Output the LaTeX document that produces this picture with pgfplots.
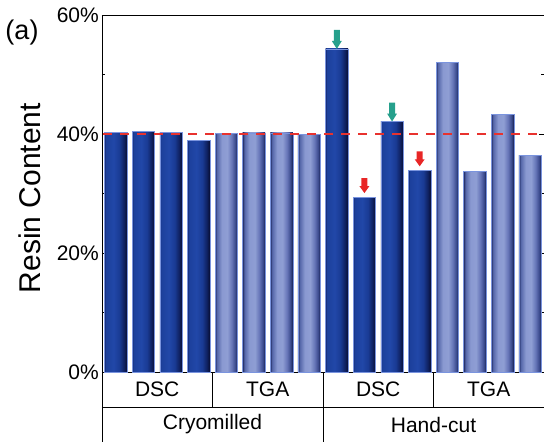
\documentclass[border=0pt]{standalone}
\usepackage{pgfplots}
\pgfplotsset{compat=1.18}
\usepackage{fontspec}
\setmainfont{Liberation Sans}

\definecolor{barEdge}{HTML}{7A94DE}
\definecolor{refRed}{HTML}{E8322E}
\definecolor{arrTeal}{HTML}{26A08C}
\definecolor{arrRed}{HTML}{E82626}

% horizontal gradients for the two bar families (bar spans 25bp..75bp)
\pgfdeclarehorizontalshading{darkbar}{100bp}{%
  rgb(0bp)=(0.08,0.16,0.44); rgb(25bp)=(0.08,0.16,0.44);
  rgb(28bp)=(0.11,0.25,0.61); rgb(45bp)=(0.13,0.28,0.66);
  rgb(58bp)=(0.10,0.23,0.58); rgb(68bp)=(0.06,0.13,0.38);
  rgb(75bp)=(0.03,0.05,0.19); rgb(100bp)=(0.03,0.05,0.19)}
\pgfdeclarehorizontalshading{litebar}{100bp}{%
  rgb(0bp)=(0.12,0.16,0.38); rgb(25bp)=(0.12,0.16,0.38);
  rgb(29bp)=(0.33,0.40,0.66); rgb(40bp)=(0.54,0.60,0.82);
  rgb(52bp)=(0.56,0.62,0.83); rgb(62bp)=(0.40,0.46,0.72);
  rgb(70bp)=(0.23,0.29,0.55); rgb(75bp)=(0.08,0.12,0.31); rgb(100bp)=(0.08,0.12,0.31)}

\pgfplotsset{
  dscbar/.style={ybar, bar width=22.5pt, bar shift=0pt, shade, shading=darkbar, draw=barEdge, line width=0.6pt},
  tgabar/.style={ybar, bar width=22.5pt, bar shift=0pt, shade, shading=litebar, draw=barEdge, line width=0.6pt},
}

% resin content (%) of the hand-cut DSC samples, reused for the markers
\def\hA{54.3}
\def\hB{29.4}
\def\hC{42.1}
\def\hD{33.9}

\begin{document}
\begin{tikzpicture}
\path[use as bounding box] (-102pt,-70pt) rectangle (442pt,372pt);
\begin{axis}[
  at={(0,0)}, anchor=south west,
  scale only axis, width=442pt, height=357pt,
  xmin=-0.5, xmax=15.5, ymin=0, ymax=60,
  xtick=\empty,
  ytick={0,20,40,60},
  yticklabels={0\%,20\%,40\%,60\%},
  minor ytick={10,30,50},
  ytick pos=both, yticklabel pos=left,
  tick align=inside,
  major tick length=5pt, minor tick length=3pt,
  every tick/.style={black, line width=0.8pt},
  axis line style={black, line width=0.9pt},
  yticklabel style={font=\fontsize{21}{25}\selectfont, inner sep=0pt, xshift=-3pt},
  clip=false,
]
% Cryomilled, DSC
\addplot[dscbar] coordinates {(0,40.3)};
\addplot[dscbar] coordinates {(1,40.5)};
\addplot[dscbar] coordinates {(2,40.3)};
\addplot[dscbar] coordinates {(3,38.9)};
% Cryomilled, TGA
\addplot[tgabar] coordinates {(4,40.05)};
\addplot[tgabar] coordinates {(5,40.2)};
\addplot[tgabar] coordinates {(6,40.2)};
\addplot[tgabar] coordinates {(7,40.0)};
% Hand-cut, DSC
\addplot[dscbar] coordinates {(8,\hA)};
\addplot[dscbar] coordinates {(9,\hB)};
\addplot[dscbar] coordinates {(10,\hC)};
\addplot[dscbar] coordinates {(11,\hD)};
% Hand-cut, TGA
\addplot[tgabar] coordinates {(12,52.0)};
\addplot[tgabar] coordinates {(13,33.7)};
\addplot[tgabar] coordinates {(14,43.3)};
\addplot[tgabar] coordinates {(15,36.4)};

\addplot[sharp plot, refRed, line width=1.6pt, dash pattern=on 9pt off 8pt]
  coordinates {(-0.45,40) (15.25,40)};

% down arrows above the hand-cut DSC bars
\fill[arrTeal] (axis cs:8,\hA) -- ([xshift=-5pt,yshift=8pt]axis cs:8,\hA) -- ([xshift=-3pt,yshift=8pt]axis cs:8,\hA)
  -- ([xshift=-3pt,yshift=19pt]axis cs:8,\hA) -- ([xshift=3pt,yshift=19pt]axis cs:8,\hA)
  -- ([xshift=3pt,yshift=8pt]axis cs:8,\hA) -- ([xshift=5pt,yshift=8pt]axis cs:8,\hA) -- cycle;
\fill[arrTeal] (axis cs:10,\hC) -- ([xshift=-5pt,yshift=8pt]axis cs:10,\hC) -- ([xshift=-3pt,yshift=8pt]axis cs:10,\hC)
  -- ([xshift=-3pt,yshift=19pt]axis cs:10,\hC) -- ([xshift=3pt,yshift=19pt]axis cs:10,\hC)
  -- ([xshift=3pt,yshift=8pt]axis cs:10,\hC) -- ([xshift=5pt,yshift=8pt]axis cs:10,\hC) -- cycle;
\fill[arrRed] ([yshift=4pt]axis cs:9,\hB) -- ([xshift=-5pt,yshift=11pt]axis cs:9,\hB) -- ([xshift=-3pt,yshift=11pt]axis cs:9,\hB)
  -- ([xshift=-3pt,yshift=19pt]axis cs:9,\hB) -- ([xshift=3pt,yshift=19pt]axis cs:9,\hB)
  -- ([xshift=3pt,yshift=11pt]axis cs:9,\hB) -- ([xshift=5pt,yshift=11pt]axis cs:9,\hB) -- cycle;
\fill[arrRed] ([yshift=4pt]axis cs:11,\hD) -- ([xshift=-5pt,yshift=11pt]axis cs:11,\hD) -- ([xshift=-3pt,yshift=11pt]axis cs:11,\hD)
  -- ([xshift=-3pt,yshift=19pt]axis cs:11,\hD) -- ([xshift=3pt,yshift=19pt]axis cs:11,\hD)
  -- ([xshift=3pt,yshift=11pt]axis cs:11,\hD) -- ([xshift=5pt,yshift=11pt]axis cs:11,\hD) -- cycle;

% category table under the axis
\begin{scope}[black, line width=0.9pt]
\draw (axis cs:-0.5,0) -- ([yshift=-72pt]axis cs:-0.5,0);
\draw (axis cs:3.5,0) -- ([yshift=-35pt]axis cs:3.5,0);
\draw (axis cs:7.5,0) -- ([yshift=-72pt]axis cs:7.5,0);
\draw (axis cs:11.5,0) -- ([yshift=-35pt]axis cs:11.5,0);
\draw (axis cs:15.5,0) -- ([yshift=-72pt]axis cs:15.5,0);
\draw ([yshift=-35pt]axis cs:-0.5,0) -- ([yshift=-35pt]axis cs:15.5,0);
\end{scope}
\begin{scope}[every node/.style={font=\fontsize{21}{25}\selectfont}]
\node at ([yshift=-17.5pt]axis cs:1.5,0) {DSC};
\node at ([yshift=-17.5pt]axis cs:5.5,0) {TGA};
\node at ([yshift=-17.5pt]axis cs:9.5,0) {DSC};
\node at ([yshift=-17.5pt]axis cs:13.5,0) {TGA};
\node at ([yshift=-52.5pt]axis cs:3.5,0) {Cryomilled};
\node at ([yshift=-52.5pt]axis cs:11.5,0) {Hand-cut};
\end{scope}

\node[rotate=90, font=\fontsize{30}{36}\selectfont] at ([xshift=-72pt]rel axis cs:0,0.487) {Resin Content};
\node[font=\fontsize{27}{32}\selectfont] at ([xshift=-80pt,yshift=-18pt]rel axis cs:0,1) {(a)};
\end{axis}
\end{tikzpicture}
\end{document}
